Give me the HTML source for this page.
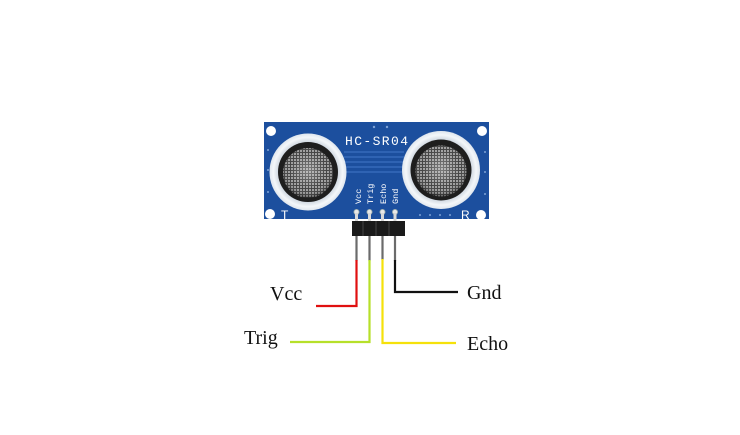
<!DOCTYPE html>
<html><head><meta charset="utf-8"><style>
html,body{margin:0;padding:0;background:#fff;}
svg{display:block;}
</style></head><body>
<svg width="740" height="435" viewBox="0 0 740 435" xmlns="http://www.w3.org/2000/svg">
<defs>
<pattern id="mesh" width="3" height="3" patternUnits="userSpaceOnUse">
<rect width="3" height="3" fill="#3a3a3a"/>
<rect width="2" height="2" fill="#9a9a9a"/>
</pattern>
<radialGradient id="shade" cx="0.5" cy="0.45" r="0.55">
<stop offset="0" stop-color="#fff" stop-opacity="0.35"/>
<stop offset="0.7" stop-color="#fff" stop-opacity="0.05"/>
<stop offset="1" stop-color="#000" stop-opacity="0.4"/>
</radialGradient>
<radialGradient id="ring" cx="0.5" cy="0.5" r="0.5">
<stop offset="0.75" stop-color="#c9d2dc"/>
<stop offset="0.9" stop-color="#f4f7fa"/>
<stop offset="1" stop-color="#dfe6ee"/>
</radialGradient>
</defs>
<rect width="740" height="435" fill="#fff"/>
<!-- board -->
<rect x="264" y="122" width="225" height="97" fill="#1c4f9e"/>
<!-- traces -->
<g stroke="#2f63b3" stroke-width="2">
<line x1="344" y1="152" x2="404" y2="152"/>
<line x1="344" y1="157" x2="404" y2="157"/>
<line x1="344" y1="162" x2="404" y2="162"/>
<line x1="344" y1="167" x2="404" y2="167"/>
<line x1="344" y1="172" x2="404" y2="172"/>
</g>
<!-- corner holes -->
<g fill="#fff">
<circle cx="271" cy="131" r="5"/>
<circle cx="482" cy="131" r="5"/>
<circle cx="270" cy="214" r="5"/>
<circle cx="481" cy="215" r="5"/>
</g>
<!-- small dots -->
<g fill="#7fa3d6">
<circle cx="268" cy="150" r="1"/><circle cx="268" cy="170" r="1"/><circle cx="268" cy="192" r="1"/>
<circle cx="485" cy="152" r="1"/><circle cx="485" cy="172" r="1"/><circle cx="485" cy="194" r="1"/>
<circle cx="420" cy="215" r="1"/><circle cx="430" cy="215" r="1"/><circle cx="440" cy="215" r="1"/><circle cx="450" cy="215" r="1"/>
<circle cx="374" cy="127" r="1.2"/><circle cx="387" cy="127" r="1.2"/>
</g>
<!-- left transducer -->
<circle cx="308" cy="172" r="38.5" fill="url(#ring)"/>
<circle cx="308" cy="172" r="30" fill="#1e1e1e"/>
<circle cx="308" cy="173" r="25" fill="url(#mesh)"/>
<circle cx="308" cy="173" r="25" fill="url(#shade)"/>
<!-- right transducer -->
<circle cx="441" cy="170" r="39" fill="url(#ring)"/>
<circle cx="441" cy="170" r="30.5" fill="#1e1e1e"/>
<circle cx="441" cy="171" r="25.5" fill="url(#mesh)"/>
<circle cx="441" cy="171" r="25.5" fill="url(#shade)"/>
<!-- labels on board -->
<text x="345" y="145" font-family="Liberation Mono, monospace" font-size="13" fill="#fff" textLength="63">HC-SR04</text>
<text x="281" y="219" font-family="Liberation Sans, sans-serif" font-size="12" fill="#fff">T</text>
<text x="461" y="219" font-family="Liberation Sans, sans-serif" font-size="12" fill="#fff">R</text>
<g font-family="Liberation Mono, monospace" font-size="8.5" fill="#fff">
<text transform="translate(361,204) rotate(-90)">Vcc</text>
<text transform="translate(373,204) rotate(-90)">Trig</text>
<text transform="translate(386,204) rotate(-90)">Echo</text>
<text transform="translate(398,204) rotate(-90)">Gnd</text>
</g>
<!-- pads -->
<g fill="#e8e8e8" stroke="#9aa" stroke-width="0.8">
<circle cx="356.5" cy="212" r="2.6"/>
<circle cx="369.5" cy="212" r="2.6"/>
<circle cx="382.5" cy="212" r="2.6"/>
<circle cx="395" cy="212" r="2.6"/>
</g>
<!-- pins through -->
<g fill="#d8d8d8">
<rect x="355" y="213" width="3" height="9"/>
<rect x="368" y="213" width="3" height="9"/>
<rect x="381" y="213" width="3" height="9"/>
<rect x="393.5" y="213" width="3" height="9"/>
</g>
<!-- header -->
<rect x="352" y="221" width="53" height="15" fill="#1a1a1a"/>
<g stroke="#444" stroke-width="1">
<line x1="363" y1="221" x2="363" y2="236"/>
<line x1="376" y1="221" x2="376" y2="236"/>
<line x1="389" y1="221" x2="389" y2="236"/>
</g>
<!-- pins below -->
<g stroke="#6b6b6b" stroke-width="2.2">
<line x1="356.5" y1="236" x2="356.5" y2="261"/>
<line x1="369.5" y1="236" x2="369.5" y2="261"/>
<line x1="382.5" y1="236" x2="382.5" y2="260"/>
<line x1="395" y1="236" x2="395" y2="261"/>
</g>
<!-- wires -->
<g fill="none" stroke-width="2.2">
<polyline points="356.5,260 356.5,306 316,306" stroke="#e01010"/>
<polyline points="369.5,260 369.5,342 290,342" stroke="#b6e02a"/>
<polyline points="382.5,259 382.5,343 456,343" stroke="#f5e10a"/>
<polyline points="395,260 395,292 458,292" stroke="#111"/>
</g>
<!-- labels -->
<g font-family="Liberation Serif, serif" font-size="20" fill="#111">
<text x="270" y="300">Vcc</text>
<text x="467" y="299">Gnd</text>
<text x="244" y="344">Trig</text>
<text x="467" y="350">Echo</text>
</g>
</svg>
</body></html>
